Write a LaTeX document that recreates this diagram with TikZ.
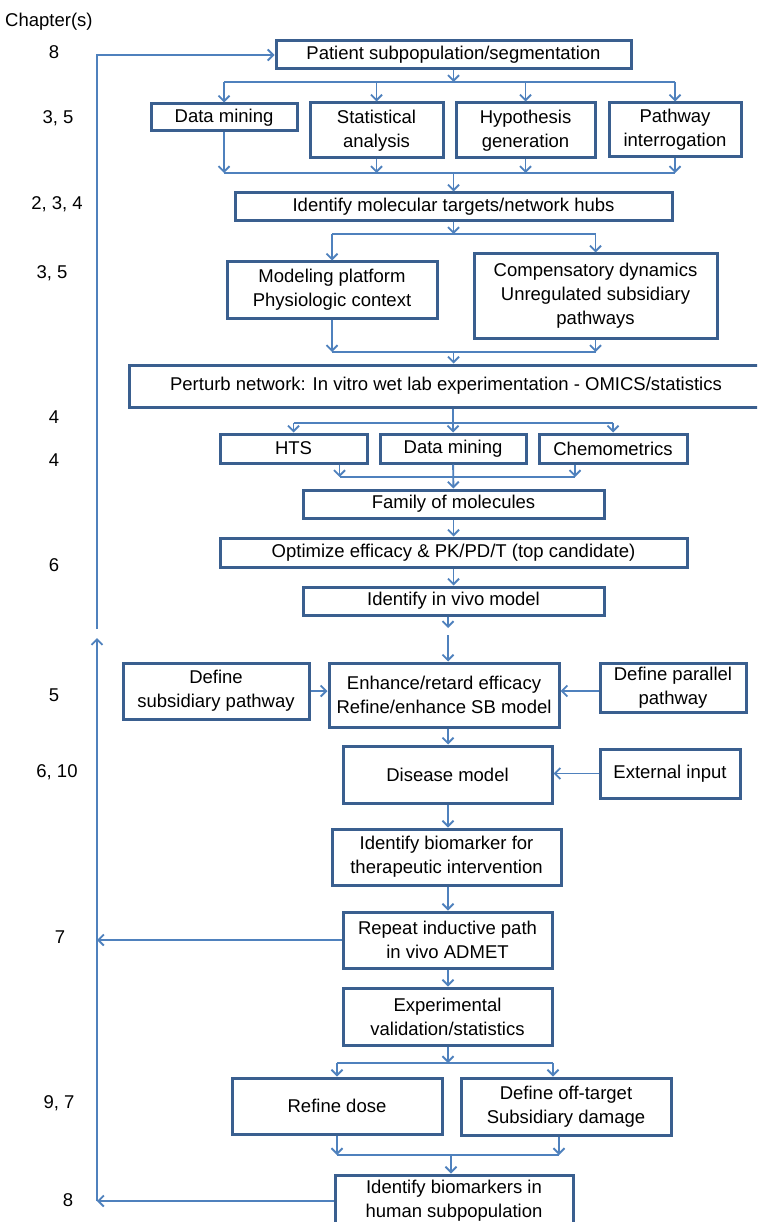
\documentclass[tikz,border=0pt]{standalone}
\usepackage{fontspec}
\setmainfont{Liberation Sans}
\usetikzlibrary{arrows.meta,positioning}
\definecolor{boxblue}{HTML}{3A5F8F}
\definecolor{arrowblue}{HTML}{4F81BD}
\tikzset{
  box/.style  = {draw=boxblue, line width=3pt, fill=white, rectangle,
                 align=center, inner sep=0pt, font=\fontsize{18.5}{24}\selectfont},
  sz/.style 2 args = {minimum width=#1pt, minimum height=#2pt},
  chap/.style = {inner sep=0pt, font=\fontsize{18.5}{24}\selectfont},
  flow/.style = {draw=arrowblue, line width=1.9pt},
  sig/.style  = {flow, -{Straight Barb[length=5.5pt,width=11pt]}},
}
\begin{document}
\begin{tikzpicture}[x=1pt,y=-1pt]
\useasboundingbox (0,0) rectangle (757,1222);
\clip (0,0) rectangle (757,1222);
% chapter column
\node[chap, anchor=west] (chaptitle) at (5,22) {Chapter(s)};
\node[chap] (chA) at (54,52) {8};
\node[chap] (chB) at (58,118) {3, 5};
\node[chap] (chC) at (57,204) {2, 3, 4};
\node[chap] (chD) at (52,273) {3, 5};
\node[chap] (chE) at (54,417) {4};
\node[chap] (chF) at (54,460) {4};
\node[chap] (chG) at (54,565) {6};
\node[chap] (chH) at (54,695) {5};
\node[chap] (chI) at (57,772) {6, 10};
\node[chap] (chJ) at (60,937) {7};
\node[chap] (chK) at (59,1103) {9, 7};
\node[chap] (chL) at (68,1200) {8};
% boxes
\node[box, sz={355}{28}] (patient) at (453.5,55) {Patient subpopulation/segmentation};
\node[box, sz={146}{27}] (mine) at (224,117.5) {Data mining};
\node[box, sz={133}{55}] (stats) at (376.5,130.5) {Statistical\\analysis};
\node[box, sz={139}{55}] (hypo) at (525.5,130.5) {Hypothesis\\generation};
\node[box, sz={132}{54}] (pathint) at (675,130) {Pathway\\interrogation};
\node[box, sz={437}{28}] (targets) at (453.5,207) {Identify molecular targets/network hubs};
\node[box, sz={210}{56}] (platform) at (332,290) {Modeling platform\\Physiologic context};
\node[box, sz={243}{84}] (compens) at (595.5,296) {Compensatory dynamics\\Unregulated subsidiary\\pathways};
\node[box, sz={634}{42}] (perturb) at (446,386) {Perturb network: In vitro wet lab experimentation - OMICS/statistics};
\node[box, sz={147}{29}] (hts) at (293.5,448.5) {HTS};
\node[box, sz={146}{29}] (mine2) at (453,448.5) {Data mining};
\node[box, sz={148}{29}] (chemo) at (613,448.5) {Chemometrics};
\node[box, sz={301}{28}] (family) at (453.5,504) {Family of molecules};
\node[box, sz={467}{29}] (optim) at (453.5,552.5) {Optimize efficacy \& PK/PD/T (top candidate)};
\node[box, sz={301}{28}] (invivo) at (453.5,601) {Identify in vivo model};
\node[box, sz={186}{56}] (subpath) at (216,691) {Define\\subsidiary pathway};
\node[box, sz={230}{64}] (enhance) at (444,695) {Enhance/retard efficacy\\Refine/enhance SB model};
\node[box, sz={146}{49}] (parpath) at (673,687.5) {Define parallel\\pathway};
\node[box, sz={209}{57}] (disease) at (447.5,774.5) {Disease model};
\node[box, sz={140}{49}] (extin) at (670,773.5) {External input};
\node[box, sz={229}{56}] (biomark) at (446.5,857) {Identify biomarker for\\therapeutic intervention};
\node[box, sz={209}{56}] (repeat) at (447.5,940) {Repeat inductive path\\in vivo ADMET};
\node[box, sz={209}{57}] (expval) at (447.5,1016.5) {Experimental\\validation/statistics};
\node[box, sz={210}{56}] (dose) at (337,1106) {Refine dose};
\node[box, sz={210}{57}] (offtgt) at (566,1106.5) {Define off-target\\Subsidiary damage};
\node[box, sz={238}{52}] (human) at (454,1201) {Identify biomarkers in\\human subpopulation};
% bus levels
\coordinate (busA) at (0,82);
\coordinate (busB) at (0,173);
\coordinate (busC) at (0,234);
\coordinate (busD) at (0,352);
\coordinate (busE) at (0,423);
\coordinate (busF) at (0,477);
\coordinate (busG) at (0,1063);
\coordinate (busH) at (0,1155);
\coordinate (gapA) at (448,628);
\coordinate (gapB) at (448,635);
\coordinate (fbtop) at (97,629);
\coordinate (fbbot) at (97,638);
% feedback loop
\draw[sig] (fbtop) |- (patient);
\draw[sig] (human) -- (human -| fbtop);
\draw[sig] (repeat) -- (repeat -| fbtop);
\draw[sig] (human -| fbtop) -- (fbbot);
% four-way split
\draw[sig] (patient) -- (patient |- busA);
\draw[flow] (mine |- busA) -- (pathint |- busA);
\foreach \n in {mine,stats,hypo,pathint}{
  \draw[sig] (\n |- busA) -- (\n);
  \draw[sig] (\n) -- (\n |- busB);
}
\draw[flow] (mine |- busB) -- (pathint |- busB);
\draw[sig] (targets |- busB) -- (targets);
% two-way split
\draw[sig] (targets) -- (targets |- busC);
\draw[flow] (platform |- busC) -- (compens |- busC);
\foreach \n in {platform,compens}{
  \draw[sig] (\n |- busC) -- (\n);
  \draw[sig] (\n) -- (\n |- busD);
}
\draw[flow] (platform |- busD) -- (compens |- busD);
\draw[sig] (targets |- busD) -- (targets |- perturb.north);
% three-way split
\draw[sig] (perturb.south -| mine2) -- (mine2);
\draw[flow] (hts |- busE) -- (chemo |- busE);
\draw[sig] (hts |- busE) -- (hts);
\draw[sig] (chemo |- busE) -- (chemo);
\draw[sig] ([xshift=46pt]hts.south) -- ([xshift=46pt]hts.south |- busF);
\draw[sig] ([xshift=-38pt]chemo.south) -- ([xshift=-38pt]chemo.south |- busF);
\draw[flow] ([xshift=46pt]hts.south |- busF) -- ([xshift=-38pt]chemo.south |- busF);
\draw[sig] (mine2) -- (family);
\draw[sig] (family) -- (optim);
\draw[sig] (optim) -- (invivo);
\draw[sig] (invivo.south -| gapA) -- (gapA);
\draw[sig] (gapB) -- (enhance.north -| gapB);
% in vivo part
\draw[sig] (subpath.east) -- (subpath.east -| enhance.west);
\draw[sig] (parpath.west |- subpath.east) -- (enhance.east |- subpath.east);
\draw[sig] (enhance.south -| gapA) -- (disease.north -| gapA);
\draw[sig] (extin.west) -- (extin.west -| disease.east);
\draw[sig] (disease.south -| gapA) -- (biomark.north -| gapA);
\draw[sig] (biomark.south -| gapA) -- (repeat.north -| gapA);
\draw[sig] (repeat.south -| gapA) -- (expval.north -| gapA);
% final split
\draw[sig] (expval.south -| gapA) -- (gapA |- busG);
\draw[flow] (dose |- busG) -- ([xshift=-13pt]offtgt.north |- busG);
\draw[sig] (dose |- busG) -- (dose);
\draw[sig] ([xshift=-13pt]offtgt.north |- busG) -- ([xshift=-13pt]offtgt.north);
\draw[sig] (dose) -- (dose |- busH);
\draw[sig] ([xshift=-7pt]offtgt.south) -- ([xshift=-7pt]offtgt.south |- busH);
\draw[flow] (dose |- busH) -- ([xshift=-7pt]offtgt.south |- busH);
\draw[sig] ([xshift=-3pt]human.north |- busH) -- ([xshift=-3pt]human.north);
\end{tikzpicture}
\end{document}
